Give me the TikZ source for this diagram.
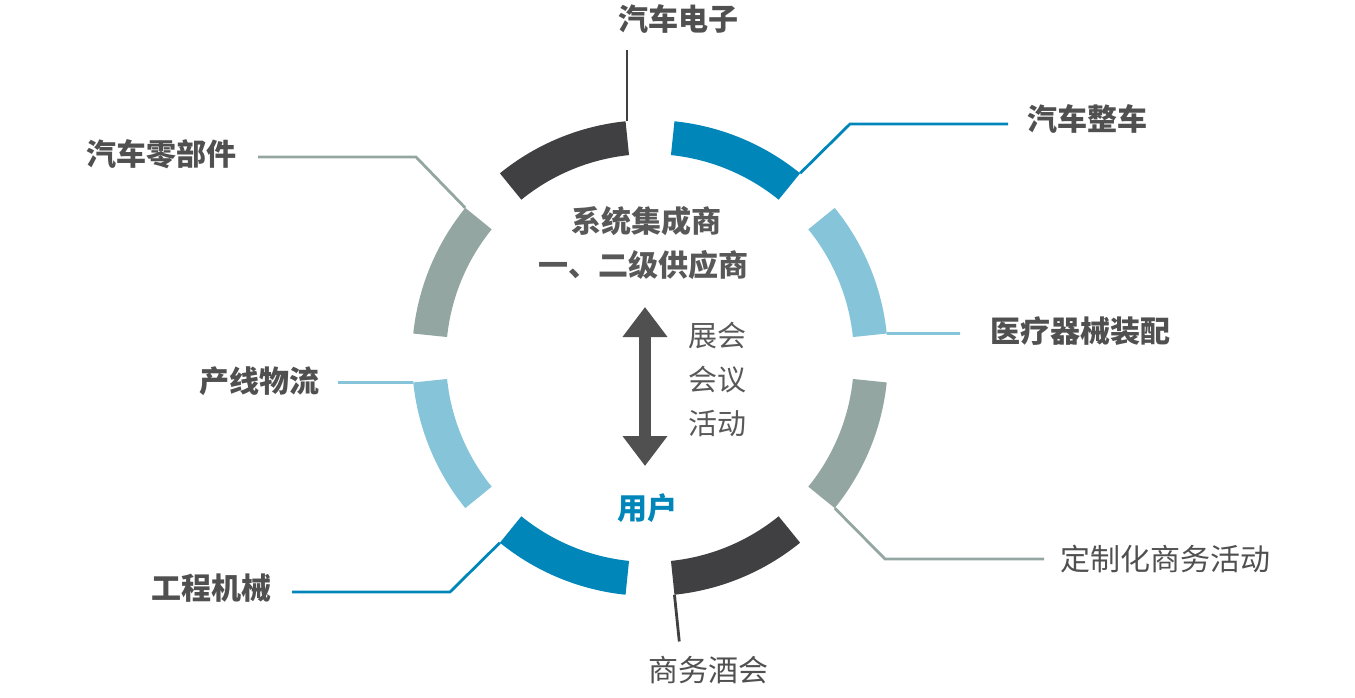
\documentclass[tikz,border=0pt]{standalone}
\usepackage{fontspec}
\newfontfamily\cjk{Noto Sans CJK SC}
\usetikzlibrary{arrows.meta,calc}
\definecolor{cdark}{HTML}{404042}
\definecolor{cblue}{HTML}{0086B9}
\definecolor{clight}{HTML}{86C4D9}
\definecolor{cgray}{HTML}{94A6A2}
\definecolor{ctext}{HTML}{505050}
\definecolor{ccenter}{HTML}{585858}
\definecolor{carrow}{HTML}{505050}
\begin{document}
\begin{tikzpicture}[x=1pt,y=1pt,
  lbl/.style={font=\cjk\fontsize{30}{36}\selectfont\bfseries, text=ctext, inner sep=0pt},
  lblr/.style={font=\cjk\fontsize{30}{36}\selectfont, text=ctext, inner sep=0pt},
  ctr/.style={font=\cjk\fontsize{30}{36}\selectfont\bfseries, text=ccenter, inner sep=0pt},
  ctrr/.style={font=\cjk\fontsize{29}{36}\selectfont, text=ccenter, inner sep=0pt},
  conn/.style={line width=2.8pt, line cap=butt, line join=miter}]
\useasboundingbox (0,0) rectangle (1355,-698);
\coordinate (C) at (650,-358);
\def\Ro{238}\def\Ri{204}\def\hs{16.6}
% ring segments
\foreach \ang/\col in {112.5/cdark,67.5/cblue,22.5/clight,-22.5/cgray,-67.5/cdark,-112.5/cblue,-157.5/clight,157.5/cgray}{
  \pgfmathsetmacro{\aa}{\ang-\hs}
  \pgfmathsetmacro{\ab}{\ang+\hs}
  \fill[\col] ($(C)+(\aa:\Ro)$) arc[start angle=\aa, end angle=\ab, radius=\Ro]
     -- ($(C)+(\ab:\Ri)$) arc[start angle=\ab, end angle=\aa, radius=\Ri] -- cycle;
}
% connector anchor points on the ring
\coordinate (s1) at ($(C)+(95.9:\Ro)$);
\coordinate (s2) at ($(C)+(50.9:\Ro)$);
\coordinate (s3) at ($(C)+(5.9:\Ro)$);
\coordinate (s4) at ($(C)+(-39.1:\Ro)$);
\coordinate (s5) at ($(C)+(-84.1:\Ro)$);
\coordinate (s6) at ($(C)+(-129.1:\Ro)$);
\coordinate (s7) at ($(C)+(185.9:\Ro)$);
\coordinate (s8) at ($(C)+(140.9:\Ro)$);
% elbows and free ends
\coordinate (s1t) at ($(s1)+(1.5,0)$);
\coordinate (e1) at ($(s1t)+(0,71)$);
\coordinate (k2) at (850,-124);
\coordinate (e2) at (1008,-124);
\coordinate (e3) at (960,-333.5);
\coordinate (k4) at (885,-559);
\coordinate (e4) at (1044,-559);
\coordinate (e5) at ($(C)+(-84.1:285)$);
\coordinate (k6) at (450,-592);
\coordinate (e6) at (292,-592);
\coordinate (e7) at (338,-382.5);
\coordinate (k8) at (416,-157);
\coordinate (e8) at (258,-157);
% labels
\node[lbl] (l1) at (678,-19) {汽车电子};
\node[lbl] (l2) at (1087,-119) {汽车整车};
\node[lbl] (l3) at (1080,-331) {医疗器械装配};
\node[lblr] (l4) at (1165,-559) {定制化商务活动};
\node[lblr] (l5) at (708,-670) {商务酒会};
\node[lbl] (l6) at (211,-588) {工程机械};
\node[lbl] (l7) at (259,-381) {产线物流};
\node[lbl] (l8) at (161,-154) {汽车零部件};
% connectors
\draw[conn, cdark] (s1t) -- (e1);
\draw[conn, cblue] (s2) -- (k2) -- (e2);
\draw[conn, clight] (s3) -- (e3);
\draw[conn, cgray] (s4) -- (k4) -- (e4);
\draw[conn, cdark] (s5) -- (e5);
\draw[conn, cblue] (s6) -- (k6) -- (e6);
\draw[conn, clight] (s7) -- (e7);
\draw[conn, cgray] (s8) -- (k8) -- (e8);
% centre
\node[ctr] (t1) at (646,-221) {系统集成商};
\node[ctr] (t2) at (643,-265) {一、二级供应商};
\node[ctrr] (m1) at (717,-335) {展会};
\node[ctrr] (m2) at (717,-380) {会议};
\node[ctrr] (m3) at (717,-424) {活动};
\node[ctr, text=cblue] (u) at (647,-508) {用户};
\coordinate (at) at (645,-307);
\coordinate (ab) at (645,-466);
\draw[carrow, line width=12pt, {Triangle[width=43pt,length=30pt]}-{Triangle[width=43pt,length=30pt]}] (at) -- (ab);
\end{tikzpicture}
\end{document}
